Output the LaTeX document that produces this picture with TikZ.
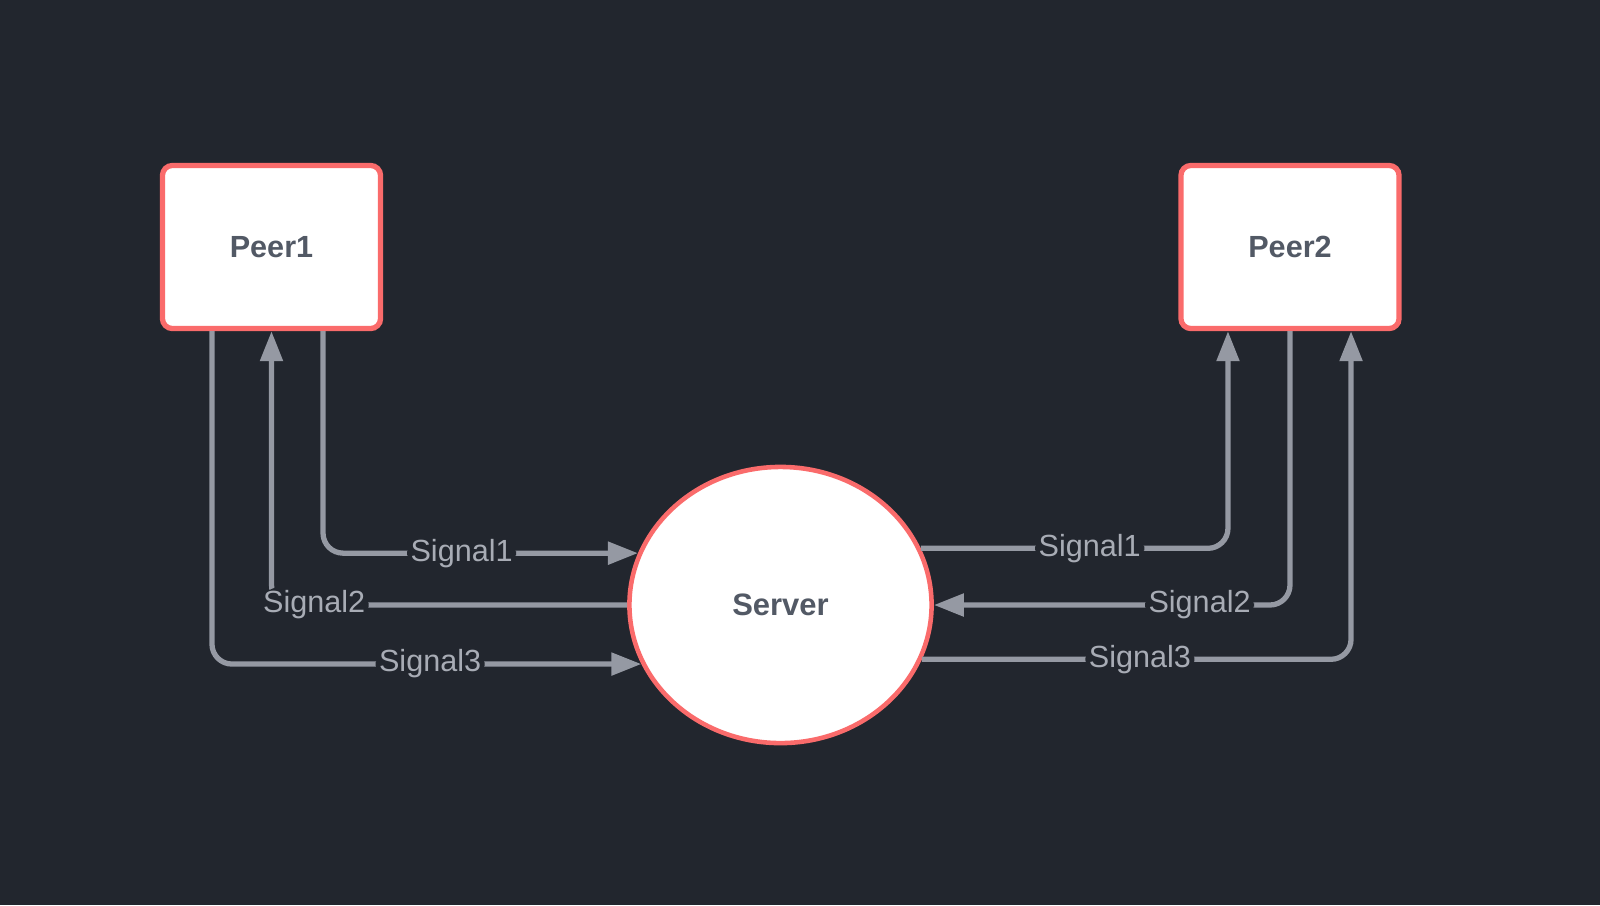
\documentclass[tikz,border=0pt]{standalone}
\usepackage{fontspec}
\setmainfont{Liberation Sans}
\usetikzlibrary{shapes.geometric,arrows.meta}
\definecolor{bgcol}{RGB}{34,38,46}
\definecolor{nodered}{RGB}{250,107,107}
\definecolor{wiregray}{RGB}{149,153,163}
\definecolor{labelgray}{RGB}{168,172,181}
\definecolor{peertext}{RGB}{82,89,101}
\begin{document}
\begin{tikzpicture}[x=0.01cm,y=-0.01cm,
  peer/.style={draw=nodered,line width=1.5pt,fill=white,rounded corners=1mm,minimum width=2.18cm,minimum height=1.63cm,text=peertext,font=\fontsize{8.7}{10}\selectfont\bfseries},
  srv/.style={ellipse,draw=nodered,line width=1.3pt,fill=white,minimum width=3.02cm,minimum height=2.76cm,text=peertext,font=\fontsize{8.8}{10}\selectfont\bfseries},
  sig/.style={draw=wiregray,line width=1.5pt,rounded corners=2mm,-{Triangle[length=3mm,width=2.2mm]}},
  lbl/.style={fill=bgcol,text=labelgray,inner sep=1pt,font=\fontsize{8.7}{10}\selectfont}]
\fill[bgcol] (0,0) rectangle (1600,905);
\node[peer] (peer1) at (271.5,247) {Peer1};
\node[peer] (peer2) at (1290,247) {Peer2};
\node[srv] (server) at (780.5,605) {Server};
% Peer1 side
\draw[sig] ([xshift=5.15mm]peer1.south) |- (server.160.4) node[lbl,pos=0.72] {Signal1};
\draw[sig] (server.west) -| (peer1.south) node[lbl,pos=0.44] {Signal2};
\draw[sig] ([xshift=-5.95mm]peer1.south) |- (server.203.4) node[lbl,pos=0.754] {Signal3};
% Peer2 side
\draw[sig] (server.22.1) -| ([xshift=-6.2mm]peer2.south) node[lbl,pos=0.275] {Signal1};
\draw[sig] (peer2.south) |- (server.east) node[lbl,pos=0.627] {Signal2};
\draw[sig] (server.-21.2) -| ([xshift=6.1mm]peer2.south) node[lbl,pos=0.254] {Signal3};
\end{tikzpicture}
\end{document}
